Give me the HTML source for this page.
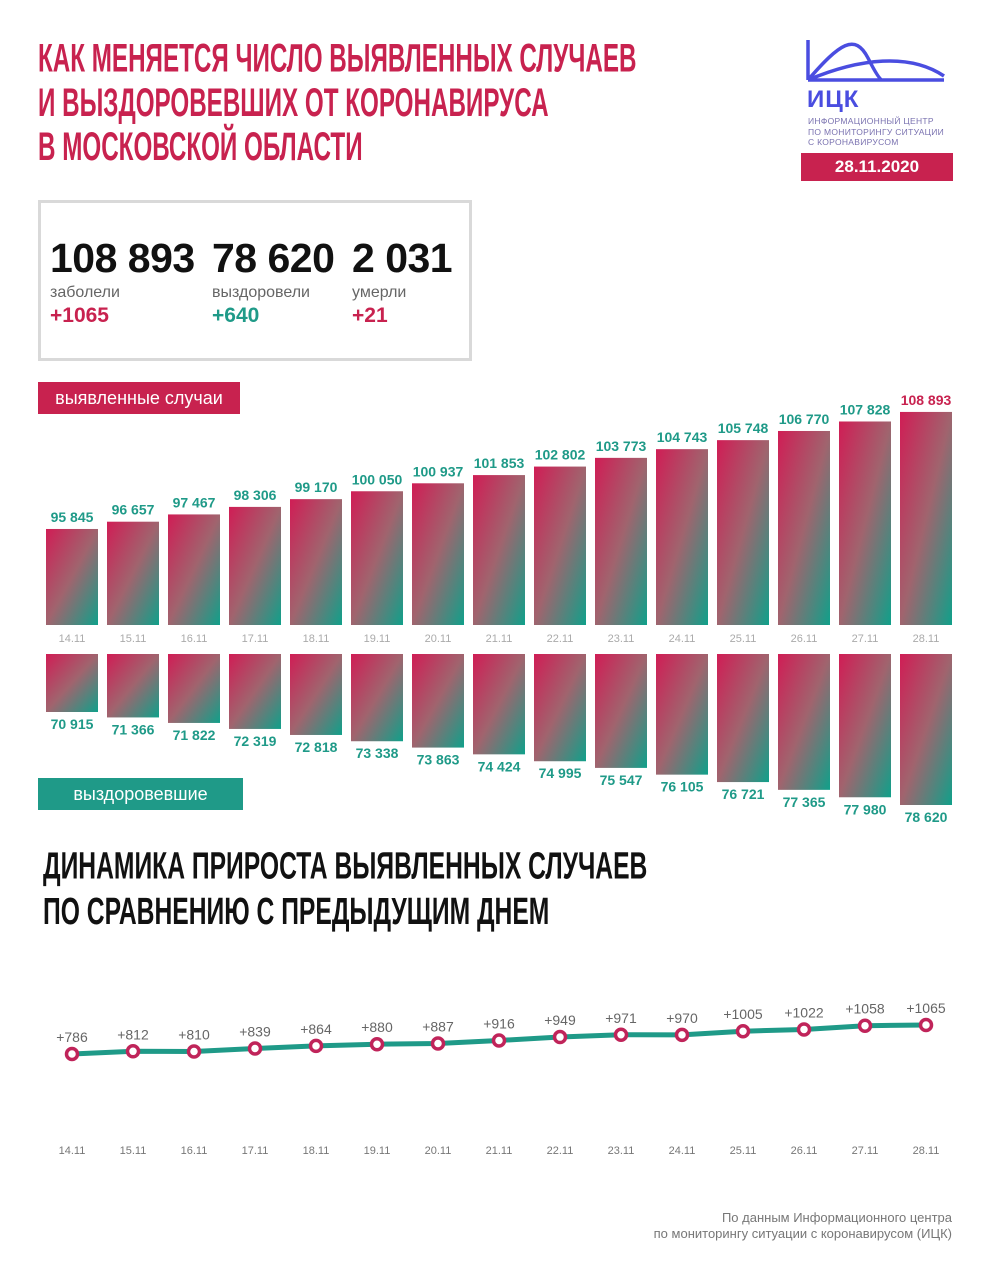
<!DOCTYPE html>
<html><head><meta charset="utf-8">
<style>
body{margin:0;background:#fff;width:993px;height:1280px;position:relative;overflow:hidden;font-family:"Liberation Sans",sans-serif}
.t{position:absolute;font-family:"Liberation Sans Narrow","Liberation Sans",sans-serif;font-weight:bold;white-space:nowrap}
</style></head><body>
<div class="t" style="left:38px;top:37px;color:#c8224f;font-size:38px;line-height:42px;transform:scale(0.637,1.05);transform-origin:top left">КАК МЕНЯЕТСЯ ЧИСЛО ВЫЯВЛЕННЫХ СЛУЧАЕВ<br>И ВЫЗДОРОВЕВШИХ ОТ КОРОНАВИРУСА<br>В МОСКОВСКОЙ ОБЛАСТИ</div>

<svg style="position:absolute;left:800px;top:38px" width="150" height="60" viewBox="0 0 150 60">
<path d="M8 2 V42 M8 42 C40 5 55 -5 68 20 C75 34 80 42 82 42 M8 42 C60 20 110 15 144 38 M8 42 H144" stroke="#4a4de0" stroke-width="3.5" fill="none"/>
</svg>
<div style="position:absolute;left:807px;top:86px;color:#4a4de0;font-weight:bold;font-size:24px;letter-spacing:1px">ИЦК</div>
<div style="position:absolute;left:808px;top:116px;color:#7a72b0;font-size:8.5px;line-height:10.5px;letter-spacing:0.3px">ИНФОРМАЦИОННЫЙ ЦЕНТР<br>ПО МОНИТОРИНГУ СИТУАЦИИ<br>С КОРОНАВИРУСОМ</div>
<div style="position:absolute;left:801px;top:153px;width:152px;height:28px;background:#c8224f;color:#fff;font-weight:bold;font-size:17px;line-height:28px;text-align:center">28.11.2020</div>

<div style="position:absolute;left:38px;top:200px;width:428px;height:155px;border:3px solid #d9d9d9"></div>
<div style="position:absolute;left:50px;top:235px">
<div style="font-size:41px;font-weight:bold;color:#111;letter-spacing:-0.5px">108 893</div>
<div style="font-size:16px;color:#666;margin-top:2px">заболели</div>
<div style="font-size:21px;font-weight:bold;color:#c8224f;margin-top:2px">+1065</div></div>
<div style="position:absolute;left:212px;top:235px">
<div style="font-size:41px;font-weight:bold;color:#111;letter-spacing:-0.5px">78 620</div>
<div style="font-size:16px;color:#666;margin-top:2px">выздоровели</div>
<div style="font-size:21px;font-weight:bold;color:#1f9a88;margin-top:2px">+640</div></div>
<div style="position:absolute;left:352px;top:235px">
<div style="font-size:41px;font-weight:bold;color:#111;letter-spacing:-0.5px">2 031</div>
<div style="font-size:16px;color:#666;margin-top:2px">умерли</div>
<div style="font-size:21px;font-weight:bold;color:#c8224f;margin-top:2px">+21</div></div>

<div style="position:absolute;left:38px;top:382px;width:202px;height:32px;background:#c8224f;color:#fff;font-size:18px;line-height:32px;text-align:center">выявленные случаи</div>
<div style="position:absolute;left:38px;top:778px;width:205px;height:32px;background:#1f9a88;color:#fff;font-size:18px;line-height:32px;text-align:center">выздоровевшие</div>

<div class="t" style="left:43px;top:843px;color:#111;font-size:36px;line-height:43px;transform:scale(0.685,1.05);transform-origin:top left">ДИНАМИКА ПРИРОСТА ВЫЯВЛЕННЫХ СЛУЧАЕВ<br>ПО СРАВНЕНИЮ С ПРЕДЫДУЩИМ ДНЕМ</div>

<div style="position:absolute;right:41px;top:1210px;text-align:right;color:#777;font-size:13px;line-height:16px">По данным Информационного центра<br>по мониторингу ситуации с коронавирусом (ИЦК)</div>

<svg id="chart" style="position:absolute;left:0;top:0" width="993" height="1280">
<defs><linearGradient id="g" x1="0" y1="0" x2="1" y2="1"><stop offset="0" stop-color="#d01d55"/><stop offset="0.5" stop-color="#a0646e"/><stop offset="1" stop-color="#10a08a"/></linearGradient></defs>
</svg>
<script>
const dates=["14.11","15.11","16.11","17.11","18.11","19.11","20.11","21.11","22.11","23.11","24.11","25.11","26.11","27.11","28.11"];
const cases=[95845,96657,97467,98306,99170,100050,100937,101853,102802,103773,104743,105748,106770,107828,108893];
const recovered=[70915,71366,71822,72319,72818,73338,73863,74424,74995,75547,76105,76721,77365,77980,78620];
const growth=[786,812,810,839,864,880,887,916,949,971,970,1005,1022,1058,1065];
const svg=document.getElementById('chart');const NS='http://www.w3.org/2000/svg';
function x(i){return 72+i*61;}
function yCase(v){return 625-(v-85140)*0.00897;}
function hRec(v){return (v-66110)*0.01207;}
function yG(v){return 1054-(v-786)*0.104;}
function fmt(v){return String(v).replace(/\B(?=(\d{3})+(?!\d))/g,' ');}
function el(t,a,txt){const e=document.createElementNS(NS,t);for(const k in a)e.setAttribute(k,a[k]);if(txt!==undefined)e.textContent=txt;svg.appendChild(e);return e;}
cases.forEach((v,i)=>{
 const y=yCase(v);
 const r=el('rect',{x:x(i)-26,y:y,width:52,height:625-y,fill:'url(#g)'});
 
 
 const t=el('text',{x:x(i),y:y-7,'text-anchor':'middle','font-size':14,'font-weight':'bold',fill:i==14?'#c8224f':'#1f9a88','font-family':'Liberation Sans'},fmt(v));
 
 
 const d=el('text',{x:x(i),y:642,'text-anchor':'middle','font-size':11,fill:'#aaa','font-family':'Liberation Sans'},dates[i]);
 
 
});
recovered.forEach((v,i)=>{
 const h=hRec(v);
 const r=el('rect',{x:x(i)-26,y:654,width:52,height:h,fill:'url(#g)'});
 
 
 const t=el('text',{x:x(i),y:654+h+17,'text-anchor':'middle','font-size':14,'font-weight':'bold',fill:'#1f9a88','font-family':'Liberation Sans'},fmt(v));
 
 
});
const line=el('polyline',{points:growth.map((v,i)=>x(i)+','+yG(v)).join(' '),fill:'none',stroke:'#1f9a88','stroke-width':5});


growth.forEach((v,i)=>{
 const c=el('circle',{cx:x(i),cy:yG(v),r:5.5,fill:'#fff',stroke:'#c0245a','stroke-width':3.5});
 
 
 const t=el('text',{x:x(i),y:yG(v)-12,'text-anchor':'middle','font-size':14,fill:'#666','font-family':'Liberation Sans'},'+'+v);
 
 
 const d=el('text',{x:x(i),y:1154,'text-anchor':'middle','font-size':11,fill:'#777','font-family':'Liberation Sans'},dates[i]);
 
 
});
</script>
</body></html>
